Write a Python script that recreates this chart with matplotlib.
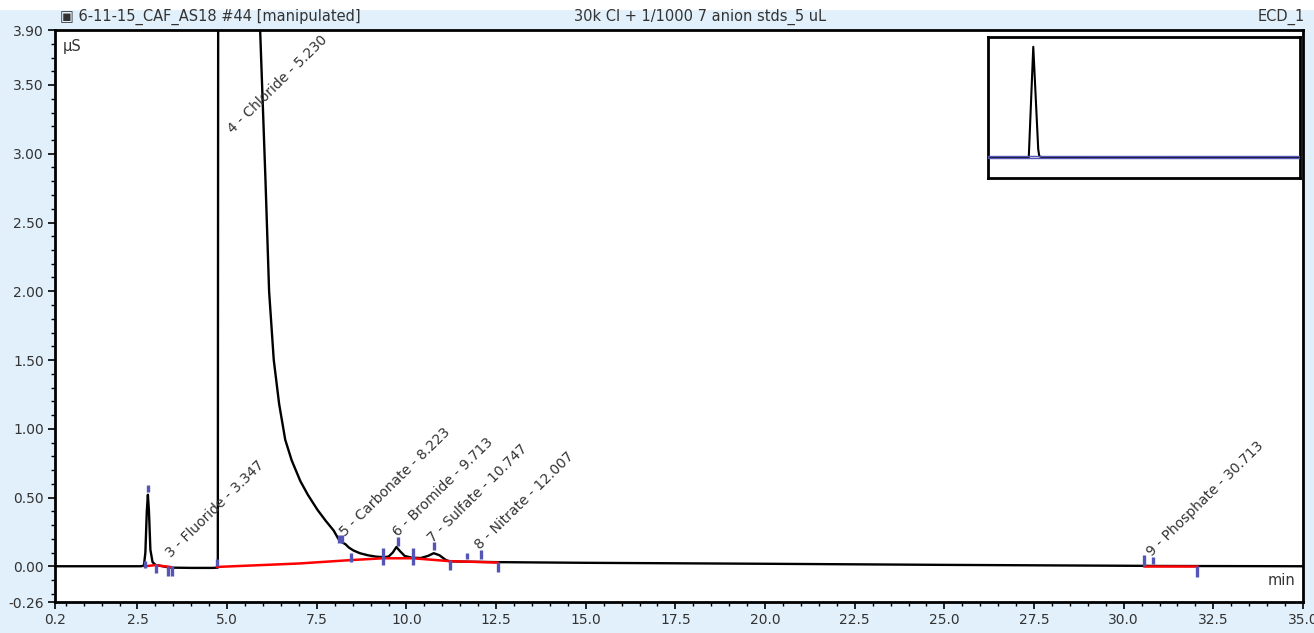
import matplotlib
matplotlib.use('Agg')
import matplotlib.pyplot as plt
from matplotlib.patches import Rectangle
from matplotlib.ticker import MultipleLocator

# chromatogram trace (min, uS)
time = [0.2, 2.60, 2.68, 2.72, 2.76, 2.79, 2.82, 2.86, 2.92, 3.00, 3.20, 3.40, 4.00, 4.60,
        4.74, 4.76, 5.25, 5.80, 5.92, 6.07, 6.17, 6.30, 6.45, 6.62, 6.80, 7.04, 7.25, 7.52,
        7.75, 7.97, 8.10, 8.20, 8.30, 8.40, 8.52, 8.70, 8.92, 9.15, 9.36, 9.50, 9.62, 9.72,
        9.82, 9.95, 10.15, 10.40, 10.60, 10.76, 10.92, 11.10, 11.20, 11.50, 12.00, 12.50,
        15.0, 20.0, 25.0, 30.5, 31.0, 35.0]
signal = [0.0, 0.0, 0.005, 0.10, 0.40, 0.52, 0.40, 0.12, 0.03, 0.01, 0.0, -0.01, -0.012, -0.012,
          -0.01, 8.0, 250.0, 20.0, 3.9, 2.8, 2.0, 1.5, 1.18, 0.92, 0.77, 0.62, 0.52, 0.41,
          0.33, 0.26, 0.20, 0.175, 0.16, 0.135, 0.115, 0.095, 0.08, 0.07, 0.066, 0.07, 0.10, 0.14,
          0.11, 0.075, 0.062, 0.06, 0.075, 0.095, 0.08, 0.045, 0.036, 0.034, 0.032, 0.030,
          0.025, 0.018, 0.010, 0.003, 0.002, 0.0]

# integration baselines
base1_t = [2.71, 2.99, 3.41]
base1_y = [0.0, 0.008, -0.005]
base2_t = [4.72, 7.0, 8.46, 9.36, 10.18, 11.21, 12.54]
base2_y = [-0.005, 0.02, 0.045, 0.058, 0.058, 0.037, 0.027]
base3_t = [30.57, 32.04]
base3_y = [0.0, 0.0]

# peak delimiter marks
mark_t = [2.79, 2.71, 3.01, 3.36, 3.46, 4.72, 8.11, 8.21, 8.46, 9.35, 9.76, 10.18, 10.77,
          11.21, 11.70, 12.07, 12.54, 30.57, 30.83, 32.04]
mark_lo = [0.54, -0.01, -0.05, -0.07, -0.07, 0.0, 0.17, 0.17, 0.03, 0.01, 0.15, 0.01, 0.12,
           -0.03, 0.05, 0.05, -0.04, 0.0, 0.02, -0.08]
mark_hi = [0.59, 0.04, 0.02, 0.0, 0.0, 0.05, 0.225, 0.225, 0.10, 0.13, 0.21, 0.13, 0.18,
           0.044, 0.10, 0.12, 0.03, 0.08, 0.07, 0.0]

# peak labels
peak_names = ['3 - Fluoride - 3.347', '4 - Chloride - 5.230', '5 - Carbonate - 8.223',
              '6 - Bromide - 9.713', '7 - Sulfate - 10.747', '8 - Nitrate - 12.007',
              '9 - Phosphate - 30.713']
label_t = [3.44, 5.16, 8.29, 9.77, 10.74, 12.05, 30.78]
label_y = [0.058, 3.14, 0.21, 0.21, 0.167, 0.116, 0.065]

xticks = [0.2, 2.5, 5.0, 7.5, 10.0, 12.5, 15.0, 17.5, 20.0, 22.5, 25.0, 27.5, 30.0, 32.5, 35.0]
yticks = [-0.26, 0.0, 0.5, 1.0, 1.5, 2.0, 2.5, 3.0, 3.5, 3.9]
ylabels = ['-0.26', '0.00', '0.50', '1.00', '1.50', '2.00', '2.50', '3.00', '3.50', '3.90']

BG = '#e1f0fb'
BLUE = '#5555b5'
TXT = '#333333'

fig = plt.figure(figsize=(13.14, 6.33), dpi=100, facecolor=BG)
fig.patches.append(Rectangle((0, 1 - 9 / 633), 1, 9 / 633, transform=fig.transFigure,
                             color='white', zorder=0))

ax = fig.add_axes([55 / 1314, 1 - 602 / 633, 1248 / 1314, 572 / 633])
ax.set_facecolor('white')
ax.plot(time, signal, color='black', lw=1.7, zorder=3)
ax.plot(base1_t, base1_y, color='red', lw=1.8, zorder=4)
ax.plot(base2_t, base2_y, color='red', lw=1.8, zorder=4)
ax.plot(base3_t, base3_y, color='red', lw=1.8, zorder=4)
ax.vlines(mark_t, mark_lo, mark_hi, color=BLUE, lw=2.4, zorder=5)

for name, t, y in zip(peak_names, label_t, label_y):
    ax.text(t, y, name, rotation=44.5, rotation_mode='anchor', ha='left', va='baseline',
            fontsize=10, color=TXT, zorder=6)

ax.set_xlim(0.2, 35.0)
ax.set_ylim(-0.26, 3.9)
ax.set_xticks(xticks)
ax.set_xticklabels(['%.1f' % v for v in xticks])
ax.set_yticks(yticks)
ax.set_yticklabels(ylabels)
ax.xaxis.set_minor_locator(MultipleLocator(0.5))
ax.yaxis.set_minor_locator(MultipleLocator(0.1))
ax.tick_params(which='major', direction='out', length=5, width=1.2, labelsize=10,
               labelcolor=TXT, pad=3)
ax.tick_params(which='minor', direction='out', length=3, width=1.0)
for sp in ax.spines.values():
    sp.set_linewidth(2)
ax.text(0.006, 0.985, 'µS', transform=ax.transAxes, ha='left', va='top', fontsize=10.5,
        color=TXT)
ax.text(0.994, 0.025, 'min', transform=ax.transAxes, ha='right', va='bottom', fontsize=10.5,
        color=TXT)

# header
fig.text(60 / 1314, 1 - 17 / 633, '▣ 6-11-15_CAF_AS18 #44 [manipulated]', ha='left',
         va='center', fontsize=10.5, color=TXT)
fig.text(700 / 1314, 1 - 17 / 633, '30k Cl + 1/1000 7 anion stds_5 uL', ha='center',
         va='center', fontsize=10.5, color=TXT)
fig.text(1305 / 1314, 1 - 17 / 633, 'ECD_1', ha='right', va='center', fontsize=10.5, color=TXT)

# overview inset
ax_in = fig.add_axes([988 / 1314, 1 - 178 / 633, 312 / 1314, 141 / 633])
ax_in.plot(time, signal, color='black', lw=1.5)
ax_in.add_patch(Rectangle((0.2, -0.26), 34.8, 4.16, fill=False, edgecolor=BLUE, lw=1.0,
                          zorder=3))
ax_in.set_xlim(0.2, 35.0)
ax_in.set_ylim(-45, 272)
ax_in.set_xticks([])
ax_in.set_yticks([])
for sp in ax_in.spines.values():
    sp.set_linewidth(2)

fig.savefig('out.png', dpi=100, facecolor=BG)
